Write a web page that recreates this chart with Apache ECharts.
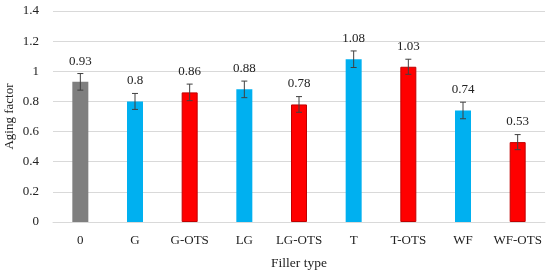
<!DOCTYPE html>
<html><head><meta charset="utf-8">
<script src="https://cdn.jsdelivr.net/npm/echarts@6/dist/echarts.min.js"></script>
<style>html,body{margin:0;padding:0;background:#fff}#c{width:550px;height:277px}</style>
</head><body><div id="c"></div>
<script>
var categories = ['0','G','G-OTS','LG','LG-OTS','T','T-OTS','WF','WF-OTS'];
var values = [0.93,0.80,0.86,0.88,0.78,1.08,1.03,0.74,0.53];
var errors = [0.055,0.053,0.055,0.055,0.052,0.055,0.05,0.055,0.05];
var barColors = ['#7f7f7f','#00b0f0','#ff0000','#00b0f0','#ff0000','#00b0f0','#ff0000','#00b0f0','#ff0000'];
var yTicks = [0,0.2,0.4,0.6,0.8,1,1.2,1.4];

var font = 'Liberation Serif';
var chart = echarts.init(document.getElementById('c'));
chart.setOption({
  animation:false,
  grid:{left:53,right:5,top:11,bottom:55,containLabel:false,outerBoundsMode:'none'},
  xAxis:{type:'category',data:categories,
    name:'Filler type',nameLocation:'middle',nameGap:34,nameMoveOverlap:false,
    nameTextStyle:{fontFamily:font,fontSize:13.5,color:'#222'},
    axisLine:{lineStyle:{color:'#d9d9d9'}},axisTick:{show:false},
    axisLabel:{interval:0,fontFamily:font,fontSize:13,color:'#222',margin:12}},
  yAxis:{type:'value',min:0,max:1.4,interval:0.2,
    name:'Aging factor',nameLocation:'middle',nameGap:37,nameMoveOverlap:false,
    nameTextStyle:{fontFamily:font,fontSize:13,color:'#222'},
    axisLine:{show:false},axisTick:{show:false},
    splitLine:{lineStyle:{color:'#d9d9d9'}},
    axisLabel:{fontFamily:font,fontSize:13,color:'#222',margin:14,
      formatter:function(v){return String(Math.round(v*10)/10);}}},
  series:[
    {type:'bar',barWidth:16,
     data:values.map(function(v,i){
       var red = barColors[i]==='#ff0000';
       return {value:v,itemStyle:{color:barColors[i],borderColor:red?'#c00000':barColors[i],borderWidth:red?1:0}};
     }),
     label:{show:true,position:'top',distance:14,fontFamily:font,fontSize:13,color:'#222',
       formatter:function(p){return String(p.value);}}},
    {type:'custom',
     data:values.map(function(v,i){return [i,v-errors[i],v+errors[i]];}),
     renderItem:function(params,api){
       var lo=api.coord([api.value(0),api.value(1)]);
       var hi=api.coord([api.value(0),api.value(2)]);
       var hw=3, st={stroke:'#404040',lineWidth:1};
       return {type:'group',children:[
         {type:'line',shape:{x1:hi[0],y1:hi[1],x2:lo[0],y2:lo[1]},style:st},
         {type:'line',shape:{x1:hi[0]-hw,y1:hi[1],x2:hi[0]+hw,y2:hi[1]},style:st},
         {type:'line',shape:{x1:lo[0]-hw,y1:lo[1],x2:lo[0]+hw,y2:lo[1]},style:st}
       ]};
     },z:10}
  ]
});
</script></body></html>
